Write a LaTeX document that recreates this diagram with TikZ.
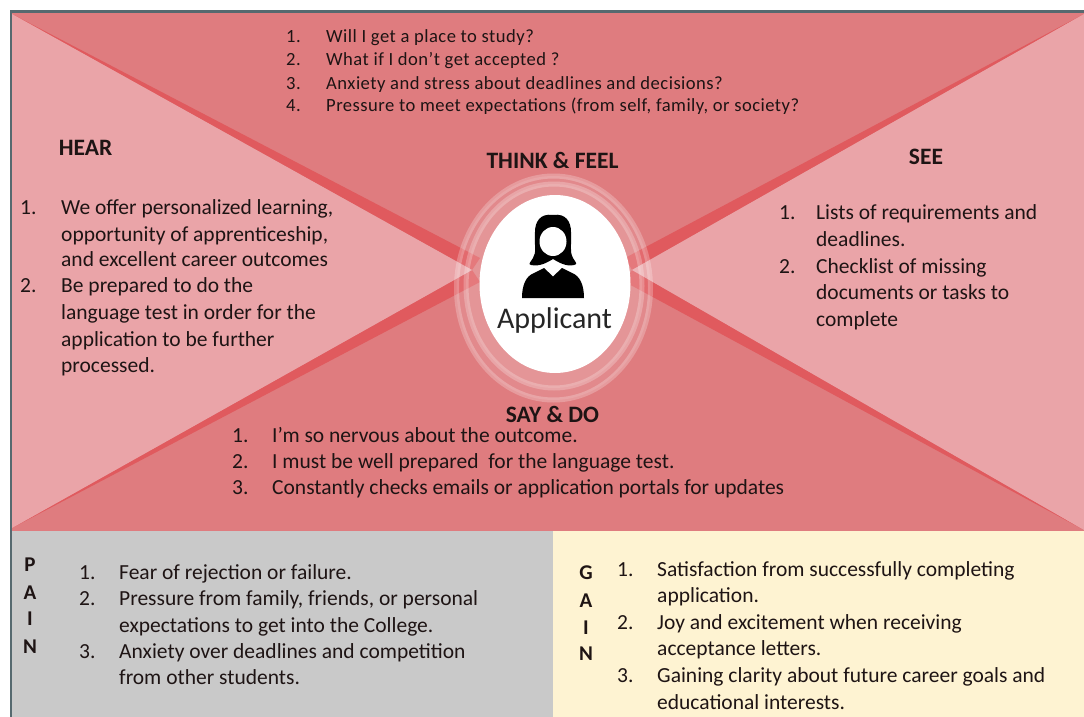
\documentclass[tikz,border=0pt]{standalone}
\usetikzlibrary{shapes.geometric}
\usepackage{fontspec}
\setmainfont{Carlito}
\definecolor{midred}{HTML}{DF7C7F}
\definecolor{lightred}{HTML}{EAA4A8}
\definecolor{bandred}{HTML}{E05A5E}
\definecolor{framec}{HTML}{56696F}
\definecolor{painc}{HTML}{C9C9C9}
\definecolor{gainc}{HTML}{FEF3D2}
\definecolor{inkc}{HTML}{1E1414}
\tikzset{
  x=1pt,y=-1pt,
  txt/.style={anchor=base west,inner sep=0pt,yshift=-1pt,font=\fontsize{21.5}{24}\selectfont,text=inkc},
  toptxt/.style={txt,font=\fontsize{18.6}{22}\selectfont\addfontfeatures{LetterSpace=2.5}},
  head/.style={anchor=base,inner sep=0pt,yshift=-0.5pt,font=\fontsize{23.5}{26}\selectfont\bfseries,text=inkc},
  letter/.style={anchor=base,inner sep=0pt,font=\fontsize{21}{24}\selectfont\bfseries,text=inkc},
  ring/.style={draw=white,draw opacity=.24,line width=5pt,fill=white,fill opacity=.1}
}
\begin{document}
\begin{tikzpicture}
\useasboundingbox (0,0) rectangle (1084,717);
\fill[white] (0,0) rectangle (1084,717);
% map background
\fill[midred] (12,12) rectangle (1084,531);
\fill[bandred] (12,14) -- (480,258) -- (472,270) -- cycle;
\fill[bandred] (12,528) -- (480,282) -- (472,270) -- cycle;
\fill[bandred] (1084,14) -- (625,258) -- (632,270) -- cycle;
\fill[bandred] (1084,530) -- (625,282) -- (632,270) -- cycle;
\fill[lightred] (12,14) -- (472,270) -- (12,528) -- cycle;
\fill[lightred] (1084,14) -- (632,270) -- (1084,530) -- cycle;
% bottom panels
\fill[painc] (12,531) rectangle (553,717);
\fill[gainc] (553,531) rectangle (1084,717);
\draw[framec,line width=2.4pt] (11,717) -- (11,11.5) -- (1084,11.5);
% centre ellipses
\node[ring,ellipse,minimum width=194pt,minimum height=224pt,inner sep=0pt] (ringa) at (553.5,288) {};
\node[ring,ellipse,minimum width=176pt,minimum height=204pt,inner sep=0pt] (ringb) at (554,286) {};
\node[ellipse,fill=white,minimum width=151pt,minimum height=178pt,inner sep=0pt] (core) at (555,284) {};
% person icon
\fill[black] (553,215) .. controls (540,213) and (535,222) .. (535,232)
  .. controls (534,245) and (537,252) .. (533,258) .. controls (530,263) and (528,264) .. (531,265)
  .. controls (540,267) and (548,262) .. (553,259) .. controls (558,262) and (566,267) .. (574,265)
  .. controls (578,264) and (576,263) .. (573,258) .. controls (569,250) and (572,245) .. (571,232)
  .. controls (571,222) and (566,213) .. (553,215) -- cycle;
\fill[white] (553,241.5) circle[x radius=13.5pt,y radius=14.5pt];
\fill[black] (522,298) .. controls (522,285) and (526,276) .. (534,273) -- (544,268) -- (553,276.5) -- (562,268) -- (572,273)
  .. controls (580,276) and (584,285) .. (584,298) -- cycle;
\node[inner sep=0pt,anchor=base,font=\fontsize{30}{34}\selectfont,text=black!85] (who) at (554.5,328) {Applicant};
% headings
\node[head] (hear) at (85.5,155) {HEAR};
\node[head] (think) at (552.5,168) {THINK \& FEEL};
\node[head] (see) at (926,164) {SEE};
\node[head] (say) at (552.5,422) {SAY \& DO};
% think & feel list
\node[toptxt] (t1n) at (286,42) {1.}; \node[toptxt] (t1) at (326,42) {Will I get a place to study?};
\node[toptxt] (t2n) at (286,65) {2.}; \node[toptxt] (t2) at (326,65) {What if I don't get accepted ?};
\node[toptxt] (t3n) at (286,88) {3.}; \node[toptxt] (t3) at (326,88) {Anxiety and stress about deadlines and decisions?};
\node[toptxt] (t4n) at (286,110) {4.}; \node[toptxt] (t4) at (326,110) {Pressure to meet expectations (from self, family, or society?};
% hear list
\node[txt] (h1n) at (20,213) {1.}; \node[txt] (h1) at (61,213) {We offer personalized learning,};
\node[txt] (h1b) at (61,240) {opportunity of apprenticeship,};
\node[txt] (h1c) at (61,265) {and excellent career outcomes};
\node[txt] (h2n) at (20,291) {2.}; \node[txt] (h2) at (61,291) {Be prepared to do the};
\node[txt] (h2b) at (61,318) {language test in order for the};
\node[txt] (h2c) at (61,345) {application to be further};
\node[txt] (h2d) at (61,371) {processed.};
% see list
\node[txt] (s1n) at (779,218) {1.}; \node[txt] (s1) at (816,218) {Lists of requirements and};
\node[txt] (s1b) at (816,245) {deadlines.};
\node[txt] (s2n) at (779,272) {2.}; \node[txt] (s2) at (816,272) {Checklist of missing};
\node[txt] (s2b) at (816,298) {documents or tasks to};
\node[txt] (s2c) at (816,325) {complete};
% say & do list
\node[txt] (d1n) at (232,441) {1.}; \node[txt] (d1) at (272,441) {I'm so nervous about the outcome.};
\node[txt] (d2n) at (232,467) {2.}; \node[txt] (d2) at (272,467) {I must be well prepared\ \ for the language test.};
\node[txt] (d3n) at (232,493) {3.}; \node[txt] (d3) at (272,493) {Constantly checks emails or application portals for updates};
% pain
\node[letter] (pp) at (30,571) {P};
\node[letter] (pa) at (30,599) {A};
\node[letter] (pi) at (30,625) {I};
\node[letter] (pn) at (30,653) {N};
\node[txt] (p1n) at (79,578) {1.}; \node[txt] (p1) at (119,578) {Fear of rejection or failure.};
\node[txt] (p2n) at (79,604) {2.}; \node[txt] (p2) at (119,604) {Pressure from family, friends, or personal};
\node[txt] (p2b) at (119,631) {expectations to get into the College.};
\node[txt] (p3n) at (79,657) {3.}; \node[txt] (p3) at (119,657) {Anxiety over deadlines and competition};
\node[txt] (p3b) at (119,683) {from other students.};
% gain
\node[letter] (gg) at (586,579) {G};
\node[letter] (ga) at (586,607) {A};
\node[letter] (gi) at (586,634) {I};
\node[letter] (gn) at (586,660) {N};
\node[txt] (g1n) at (617,575) {1.}; \node[txt] (g1) at (657,575) {Satisfaction from successfully completing};
\node[txt] (g1b) at (657,601) {application.};
\node[txt] (g2n) at (617,628) {2.}; \node[txt] (g2) at (657,628) {Joy and excitement when receiving};
\node[txt] (g2b) at (657,654) {acceptance letters.};
\node[txt] (g3n) at (617,681) {3.}; \node[txt] (g3) at (657,681) {Gaining clarity about future career goals and};
\node[txt] (g3b) at (657,708) {educational interests.};
\end{tikzpicture}
\end{document}
